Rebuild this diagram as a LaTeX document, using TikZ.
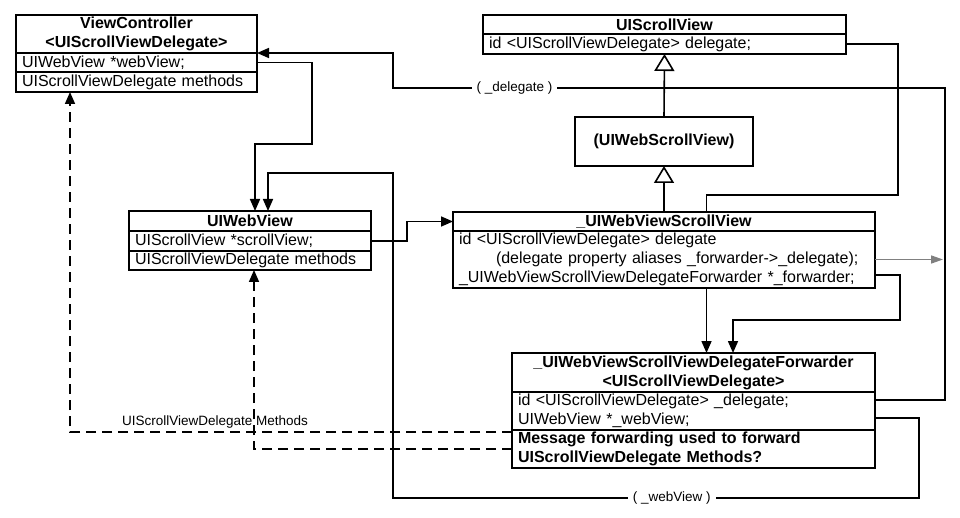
\documentclass[tikz,border=0pt]{standalone}
\usepackage{fontspec}
\setmainfont{Liberation Sans}
\usetikzlibrary{backgrounds}
\usetikzlibrary{calc,positioning,arrows.meta}

\begin{document}
\begin{tikzpicture}[
    x=1pt, y=-1pt,
    every node/.style={font=\fontsize{16}{19}\selectfont},
    cls/.style={draw, line width=1.6pt, fill=white, outer sep=0pt,
        inner xsep=6pt, inner ysep=0pt, anchor=north west},
    title/.style={cls, font=\fontsize{16}{19}\selectfont\bfseries, align=center},
    row/.style={cls, align=left},
    arr/.style={line width=1.6pt, -{Triangle[length=12pt,width=10pt]}},
    inh/.style={line width=1.6pt, -{Triangle[length=17pt,width=20pt,fill=white]}},
    grayarr/.style={line width=1.6pt, gray, -{Triangle[length=12pt,width=8pt]}},
    dashline/.style={dash pattern=on 10pt off 6pt},
    lbl/.style={fill=white, inner xsep=5pt, inner ysep=2pt, font=\fontsize{13.5}{16}\selectfont},
 ]
    \useasboundingbox (0,0) rectangle (960,518);

    % ViewController
    \node[title, text width=229pt, minimum height=38pt] (VC) at (16,15)
        {ViewController\\<UIScrollViewDelegate>};
    \node[row, text width=229pt, minimum height=19pt] (VCweb) at (VC.south west)
        {UIWebView *webView;};
    \node[row, text width=229pt, minimum height=20pt] (VCmeth) at (VCweb.south west)
        {UIScrollViewDelegate methods};

    % UIScrollView
    \node[title, text width=351pt, minimum height=19pt] (SV) at (483,15) {UIScrollView};
    \node[row, text width=351pt, minimum height=20pt] (SVdel) at (SV.south west)
        {id <UIScrollViewDelegate> delegate;};

    \node[title, text width=166pt, minimum height=49pt] (WSV) at (575,117) {(UIWebScrollView)};

    % UIWebView
    \node[title, text width=230pt, minimum height=20pt] (WV) at (129,211) {UIWebView};
    \node[row, text width=230pt, minimum height=20pt] (WVscroll) at (WV.south west)
        {UIScrollView *scrollView;};
    \node[row, text width=230pt, minimum height=19pt] (WVmeth) at (WVscroll.south west)
        {UIScrollViewDelegate methods};

    % _UIWebViewScrollView
    \node[title, text width=410pt, minimum height=19pt] (WVSV) at (453,212)
        {\_UIWebViewScrollView};
    \node[row, text width=410pt, minimum height=57pt] (WVSVbody) at (WVSV.south west)
        {id <UIScrollViewDelegate> delegate\\
         \hspace*{37pt}(delegate property aliases \_forwarder->\_delegate);\\
         \_UIWebViewScrollViewDelegateForwarder *\_forwarder;};

    % forwarder
    \node[title, text width=351pt, minimum height=39pt] (FW) at (512,353)
        {\_UIWebViewScrollViewDelegateForwarder\\<UIScrollViewDelegate>};
    \node[row, text width=351pt, minimum height=38pt] (FWvars) at (FW.south west)
        {id <UIScrollViewDelegate> \_delegate;\\UIWebView *\_webView;};
    \node[row, text width=351pt, minimum height=38pt, font=\fontsize{16}{19}\selectfont\bfseries]
        (FWmsg) at (FWvars.south west)
        {Message forwarding used to forward\\UIScrollViewDelegate Methods?};

    \coordinate (grayend) at (943,258);

    % connectors
    \begin{pgfonlayer}{background}
        \draw[arr] (SVdel.east) -| (898,195) -| ([xshift=13pt]FW.north);
    \end{pgfonlayer}

    \draw[inh] (WSV.north) -- (SVdel.south);
    \draw[inh] (WVSV.north) -- (WSV.south);

    \draw[arr] (VCweb.east) -| (312,144) -| ([xshift=5pt]WV.north);
    \draw[arr] ($(FWvars.east)+(0,7)$) -| (919,498)
        -- node[lbl,pos=0.47] {( \_webView )} (393,498)
        |- ($(WV.north)+(18,-38)$) -- ([xshift=18pt]WV.north);
    \draw[arr] (WVscroll.east) -- ++(36,0) |- (WVSV.west);

    \draw[arr] ($(WVSVbody.east)+(0,15.5)$) -| (900,320) -| ([xshift=39.5pt]FW.north);
    \draw[grayarr] (WVSVbody.east) -- (WVSVbody.east -| grayend);

    \draw[arr] ($(FWvars.east)+(0,-11)$) -| (945,88)
        -- node[lbl,pos=0.78] {( \_delegate )} (393,88)
        |- (VC.south east);

    \draw[arr, dashline] ($(FWmsg.west)+(0,-17)$)
        -| node[above, pos=0.336, inner sep=3pt, font=\fontsize{13.5}{16}\selectfont]
           {UIScrollViewDelegate Methods}
        ([xshift=-66.5pt]VCmeth.south);
    \draw[arr, dashline] (FWmsg.west) -| ([xshift=4pt]WVmeth.south);

\end{tikzpicture}
\end{document}
